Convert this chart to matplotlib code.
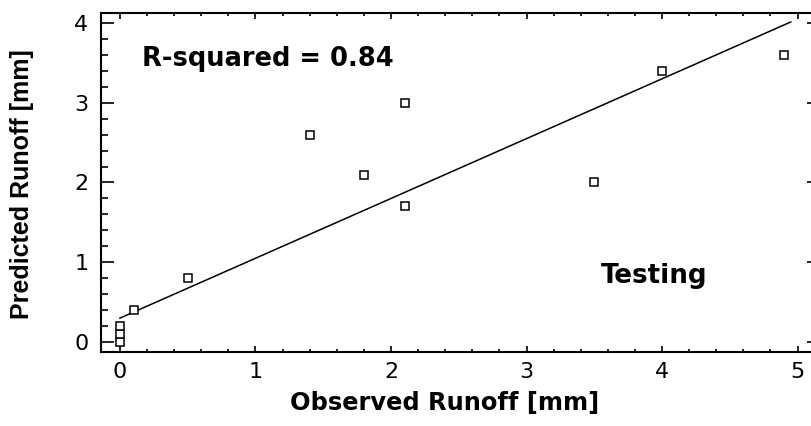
import numpy as np
import matplotlib
matplotlib.use("Agg")
import matplotlib.pyplot as plt
from matplotlib.ticker import MultipleLocator

plt.rcParams['font.family'] = ['DejaVu Sans']

# Observed vs predicted runoff for the testing events [mm]
observed = [0.0, 0.0, 0.0, 0.1, 0.5, 1.4, 1.8, 2.1, 2.1, 3.5, 4.0, 4.9]
predicted = [0.0, 0.1, 0.2, 0.4, 0.8, 2.6, 2.1, 3.0, 1.7, 2.0, 3.4, 3.6]

# Fitted regression line
fit_intercept = 0.30
fit_slope = 0.75
fit_x = [0.0, 4.95]

r_squared = 0.84

x_ticks = [0, 1, 2, 3, 4, 5]
y_ticks = [0, 1, 2, 3, 4]

W, H = 811, 426
fig = plt.figure(figsize=(W / 100, H / 100), dpi=100)
ax = fig.add_axes([101 / W, 74 / H, 712 / W, 339 / H])

fx = np.array(fit_x)
ax.plot(fx, fit_intercept + fit_slope * fx, color='black', lw=1.1, zorder=2)
ax.plot(observed, predicted, linestyle='none', marker='s', ms=5.6,
        mfc='white', mec='black', mew=1.1, zorder=3)

ax.set_xlim(-0.14, 5.114)
ax.set_ylim(-0.125, 4.125)

ax.set_xticks(x_ticks)
ax.set_yticks(y_ticks)
ax.xaxis.set_minor_locator(MultipleLocator(0.2))
ax.yaxis.set_minor_locator(MultipleLocator(0.2))

for side in ('top', 'left', 'bottom', 'right'):
    ax.spines[side].set_linewidth(1.5)

ax.tick_params(axis='x', which='both', direction='in', top=True, bottom=True,
               labelsize=16, pad=7, width=1.2)
ax.tick_params(axis='x', which='major', length=4.5)
ax.tick_params(axis='x', which='minor', length=2.5)
ax.tick_params(axis='y', which='both', direction='in', left=True, right=False,
               labelsize=16, pad=9, width=1.2)
ax.tick_params(axis='y', which='major', length=9.5)
ax.tick_params(axis='y', which='minor', length=5)

sec = ax.secondary_yaxis('right')
sec.set_yticks(y_ticks)
sec.tick_params(direction='in', length=4.5, width=1.2, labelright=False)
sec.spines['right'].set_linewidth(1.5)

ax.set_xlabel('Observed Runoff [mm]', fontsize=17.4, fontweight='bold',
              va='baseline')
ax.xaxis.set_label_coords(0.483, -0.171)
ax.set_ylabel('Predicted Runoff [mm]', fontsize=18, fontweight='bold',
              va='center', family=['Liberation Sans', 'DejaVu Sans'])
ax.yaxis.set_label_coords(-0.111, 0.496)

ax.text(0.165, 3.46, f'R-squared = {r_squared:.2f}', fontsize=18.5,
        fontweight='bold', va='baseline', ha='left')
ax.text(3.55, 0.745, 'Testing', fontsize=18.8, fontweight='bold',
        va='baseline', ha='left')

fig.savefig('out.png', dpi=100)
